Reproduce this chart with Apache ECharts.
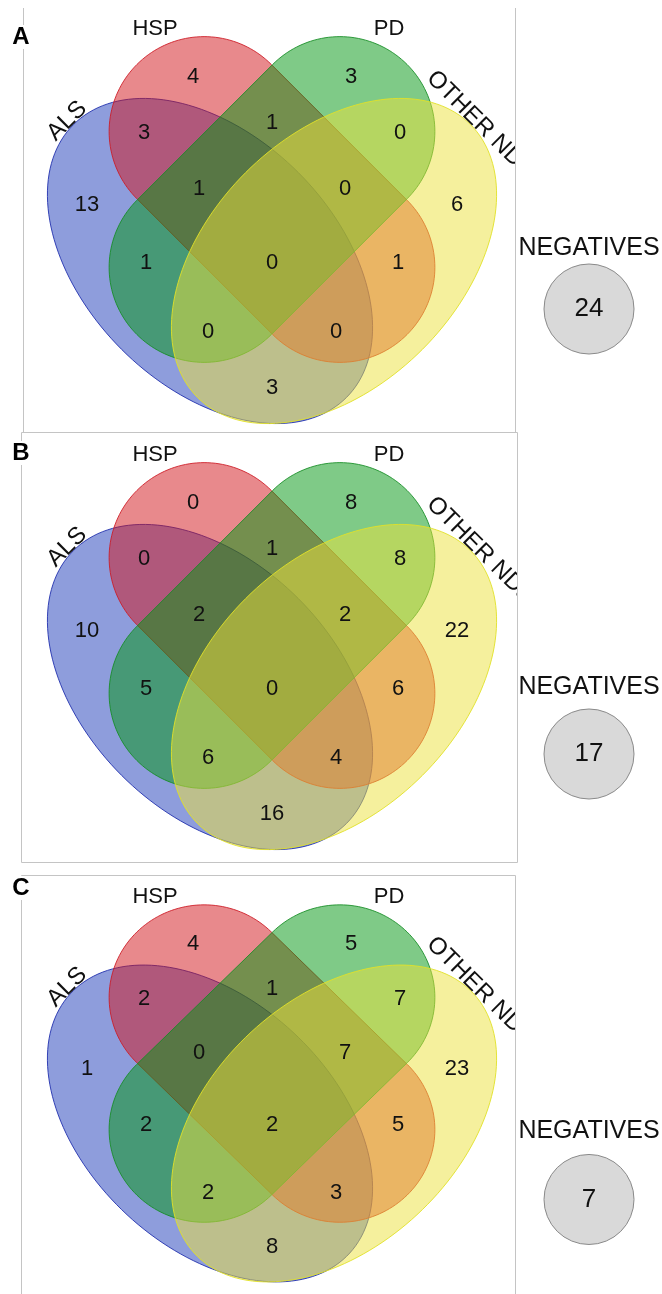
<!DOCTYPE html>
<html>
<head>
<meta charset="utf-8">
<script src="https://cdn.jsdelivr.net/npm/echarts@6/dist/echarts.min.js"></script>
<style>
  html, body { margin: 0; padding: 0; background: #ffffff; }
  #chart { width: 662px; height: 1294px; }
</style>
</head>
<body>
<div id="chart"></div>
<script>
// ---- Data -------------------------------------------------------------
const setNames = ['ALS', 'HSP', 'PD', 'OTHER NDs'];
// Region order used by every counts array
const regionNames = [
  'HSP', 'PD', 'ALS&HSP', 'HSP&PD', 'PD&OTHER',
  'ALS', 'ALS&HSP&PD', 'HSP&PD&OTHER', 'OTHER',
  'ALS&PD', 'ALS&HSP&PD&OTHER', 'HSP&OTHER',
  'ALS&PD&OTHER', 'ALS&HSP&OTHER', 'ALS&OTHER'
];
const panelLetters = ['A', 'B', 'C'];
const countsA = [4, 3, 3, 1, 0, 13, 1, 0, 6, 1, 0, 1, 0, 0, 3];
const countsB = [0, 8, 0, 1, 8, 10, 2, 2, 22, 5, 0, 6, 6, 4, 16];
const countsC = [4, 5, 2, 1, 7, 1, 0, 7, 23, 2, 2, 5, 2, 3, 8];
const negatives = [24, 17, 7];
const negativesLabel = 'NEGATIVES';

// ---- Layout -----------------------------------------------------------
const FONT = '"Liberation Sans", Arial, Helvetica, sans-serif';
const BORDER = '#c4c4c4';

// Outer sets are tilted ellipses, inner sets are tilted capsules (panel units = px)
const SHAPES = [
  { kind: 'ellipse', c: [210, 261],   dir: [1, 1],  a: 193, b: 125,
    fill: 'rgba(30,60,185,0.5)',  stroke: 'rgba(25,40,170,0.85)' },   // ALS
  { kind: 'capsule', c: [272, 199.5], dir: [1, 1],  half: 96, r: 95,
    fill: 'rgba(210,20,25,0.5)',  stroke: 'rgba(205,25,35,0.85)' },   // HSP
  { kind: 'capsule', c: [272, 199.5], dir: [-1, 1], half: 96, r: 95,
    fill: 'rgba(0,150,15,0.5)',   stroke: 'rgba(20,140,35,0.85)' },   // PD
  { kind: 'ellipse', c: [334, 261],   dir: [-1, 1], a: 193, b: 125,
    fill: 'rgba(235,225,60,0.5)', stroke: 'rgba(225,225,40,0.9)' }    // OTHER NDs
];
const SET_LABEL_POS = [
  { x: 67,  y: 121, rot: Math.PI / 4,  size: 24 },
  { x: 155, y: 29,  rot: 0,            size: 22 },
  { x: 389, y: 29,  rot: 0,            size: 22 },
  { x: 479, y: 123, rot: -Math.PI / 4, size: 24 }
];
const REGION_ANCHORS = [
  [193, 77], [351, 77], [144, 133], [272, 123], [400, 133],
  [87, 205], [199, 189], [345, 189], [457, 205],
  [146, 263], [272, 263], [398, 263],
  [208, 332], [336, 332], [272, 388]
];
// Panel frames (absolute px); oy = vertical origin of the panel's diagram
const PANELS = [
  { oy: 0,   left: 23, top: 7,   width: 492, height: 425, letterY: 37,  negTextY: 248, negCircY: 309 },
  { oy: 426, left: 21, top: 432, width: 496, height: 430, letterY: 453, negTextY: 261, negCircY: 328 },
  { oy: 869, left: 21, top: 875, width: 494, height: 430, letterY: 888, negTextY: 269, negCircY: 339 }
];
const NEG_X = 589;
const NEG_R = 45;
const panelCounts = [countsA, countsB, countsC];

// outline of one set in panel units, mapped to pixels through the axes
function outlinePoints(api, s) {
  const len = Math.hypot(s.dir[0], s.dir[1]);
  const u = [s.dir[0] / len, s.dir[1] / len];
  const v = [-u[1], u[0]];
  const raw = [];
  const N = 160;
  if (s.kind === 'ellipse') {
    for (let i = 0; i < N; i++) {
      const t = 2 * Math.PI * i / N;
      const ca = s.a * Math.cos(t), sb = s.b * Math.sin(t);
      raw.push([s.c[0] + ca * u[0] + sb * v[0], s.c[1] + ca * u[1] + sb * v[1]]);
    }
  } else {
    const ang = Math.atan2(u[1], u[0]);
    const ends = [
      [s.c[0] + s.half * u[0], s.c[1] + s.half * u[1]],
      [s.c[0] - s.half * u[0], s.c[1] - s.half * u[1]]
    ];
    ends.forEach(function (e, k) {
      for (let i = 0; i <= N / 2; i++) {
        const t = ang - Math.PI / 2 + k * Math.PI + Math.PI * i / (N / 2);
        raw.push([e[0] + s.r * Math.cos(t), e[1] + s.r * Math.sin(t)]);
      }
    });
  }
  return raw.map(function (p) { return api.coord(p); });
}

function textEl(x, y, text, size, opts) {
  opts = opts || {};
  return {
    type: 'text',
    x: x, y: y,
    rotation: opts.rot || 0,
    style: {
      text: text,
      fill: opts.color || '#111111',
      fontSize: size,
      fontFamily: FONT,
      fontWeight: opts.weight || 'normal',
      align: 'center',
      verticalAlign: 'middle',
      textAlign: 'center',
      textVerticalAlign: 'middle'
    }
  };
}

const grid = [], xAxis = [], yAxis = [], series = [], graphic = [];

// panel frames
function line(x1, y1, x2, y2) {
  return { type: 'line', z: 1, shape: { x1: x1, y1: y1, x2: x2, y2: y2 }, style: { stroke: BORDER, lineWidth: 1 }, silent: true };
}
graphic.push(line(23.5, 8, 23.5, 432));
graphic.push(line(515.5, 8, 515.5, 432));
graphic.push(line(21.5, 432.5, 517.5, 432.5));
graphic.push(line(21.5, 432.5, 21.5, 862.5));
graphic.push(line(517.5, 432.5, 517.5, 862.5));
graphic.push(line(21.5, 862.5, 517.5, 862.5));
graphic.push(line(21.5, 875.5, 515.5, 875.5));
graphic.push(line(21.5, 875.5, 21.5, 1294));
graphic.push(line(515.5, 875.5, 515.5, 1294));

PANELS.forEach(function (pn, p) {
  grid.push({ left: pn.left, top: pn.top, width: pn.width, height: pn.height, show: false, containLabel: false });
  xAxis.push({ type: 'value', gridIndex: p, min: pn.left, max: pn.left + pn.width, show: false });
  yAxis.push({ type: 'value', gridIndex: p, min: pn.top - pn.oy, max: pn.top - pn.oy + pn.height, inverse: true, show: false });

  // four overlapping sets
  series.push({
    type: 'custom', name: 'sets' + p, xAxisIndex: p, yAxisIndex: p, clip: true, z: 2, silent: true,
    data: setNames.map(function (n, i) { return [i]; }),
    renderItem: function (params, api) {
      const s = SHAPES[params.dataIndex];
      return {
        type: 'polygon',
        shape: { points: outlinePoints(api, s) },
        style: { fill: s.fill, stroke: s.stroke, lineWidth: 1 }
      };
    }
  });

  // set names (clipped to the panel frame)
  series.push({
    type: 'custom', name: 'setNames' + p, xAxisIndex: p, yAxisIndex: p, clip: true, z: 3, silent: true,
    data: setNames.map(function (n, i) { return [i]; }),
    renderItem: function (params, api) {
      const l = SET_LABEL_POS[params.dataIndex];
      const pt = api.coord([l.x, l.y]);
      return textEl(pt[0], pt[1], setNames[params.dataIndex], l.size, { rot: l.rot });
    }
  });

  // region counts
  series.push({
    type: 'custom', name: 'counts' + p, xAxisIndex: p, yAxisIndex: p, clip: false, z: 4, silent: true,
    data: panelCounts[p].map(function (v) { return [v]; }),
    renderItem: function (params, api) {
      const pt = api.coord(REGION_ANCHORS[params.dataIndex]);
      return textEl(pt[0], pt[1], String(api.value(0)), 22);
    }
  });

  // negatives bubble
  series.push({
    type: 'custom', name: 'negatives' + p, xAxisIndex: p, yAxisIndex: p, clip: false, z: 4, silent: true,
    data: [[negatives[p]]],
    renderItem: function (params, api) {
      const tp = api.coord([NEG_X, pn.negTextY]);
      const cp = api.coord([NEG_X, pn.negCircY]);
      const r = Math.abs(api.size([NEG_R, NEG_R])[0]);
      return {
        type: 'group',
        children: [
          textEl(tp[0], tp[1], negativesLabel, 25),
          { type: 'circle', shape: { cx: cp[0], cy: cp[1], r: r },
            style: { fill: '#d9d9d9', stroke: '#8a8a8a', lineWidth: 1 } },
          textEl(cp[0], cp[1], String(api.value(0)), 26)
        ]
      };
    }
  });

  // panel letter
  graphic.push({
    type: 'text', z: 10, x: 21, y: pn.letterY,
    style: { text: panelLetters[p], fill: '#000', fontSize: 24, fontWeight: 'bold', fontFamily: FONT,
             backgroundColor: '#ffffff', padding: [0, 1],
             align: 'center', verticalAlign: 'middle', textAlign: 'center', textVerticalAlign: 'middle' }
  });
});

const chart = echarts.init(document.getElementById('chart'), null, { renderer: 'canvas' });
chart.setOption({
  backgroundColor: '#ffffff',
  animation: false,
  grid: grid,
  xAxis: xAxis,
  yAxis: yAxis,
  series: series,
  graphic: graphic
});
</script>
</body>
</html>
